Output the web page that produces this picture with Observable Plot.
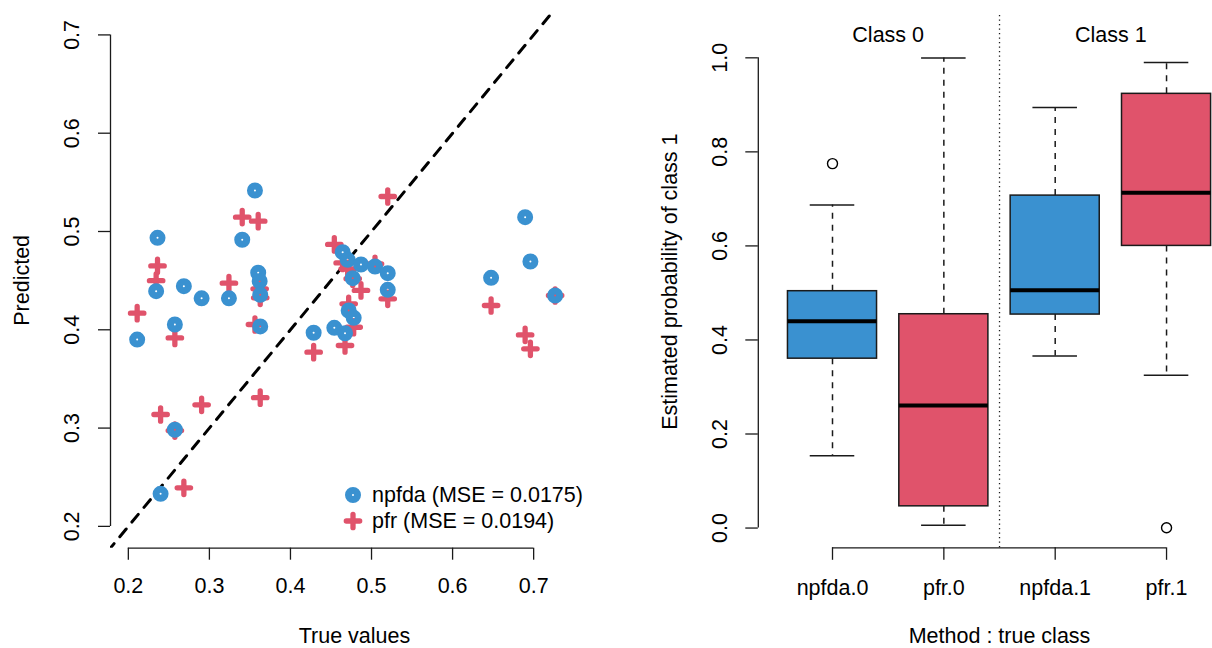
<!DOCTYPE html>
<html>
<head>
<meta charset="utf-8">
<script src="https://cdn.jsdelivr.net/npm/d3@7"></script>
<script src="https://cdn.jsdelivr.net/npm/@observablehq/plot@0.6"></script>
<style>
  html, body { margin: 0; padding: 0; background: #fff; }
  #figure { position: relative; width: 1212px; height: 648px; overflow: hidden; background: #fff;
            font-family: "Liberation Sans", Arial, Helvetica, sans-serif; color: #000; }
  #left, #right { position: absolute; top: 0; }
  #left { left: 0; }
  #right { left: 600px; }
  .legend-row { position: absolute; left: 343px; height: 26px; display: flex; align-items: center;
                font-size: 21.5px; white-space: nowrap; }
  .legend-row svg { width: 20px; height: 20px; margin-right: 9px; overflow: visible; }
</style>
</head>
<body>
<div id="figure">
  <div id="left"></div>
  <div id="right"></div>
  <div class="legend-row" style="top:482px">
    <svg viewBox="-10 -10 20 20"><circle r="4.5" fill="none" stroke="#3A91D0" stroke-width="7"/></svg>
    <span>npfda (MSE = 0.0175)</span>
  </div>
  <div class="legend-row" style="top:508px">
    <svg viewBox="-10 -10 20 20"><path d="M-6.7,0H6.7M0,-6.7V6.7" fill="none" stroke="#E0536B" stroke-width="5.3" stroke-linecap="round"/></svg>
    <span>pfr (MSE = 0.0194)</span>
  </div>
</div>
<script>
// ---- Scatter: true values against predictions ----
const trueValues = [0.2109, 0.2343, 0.2360, 0.2398, 0.2574, 0.2574, 0.2685, 0.2904, 0.3241, 0.3405,
                    0.3562, 0.3602, 0.3620, 0.3627, 0.3627, 0.4286, 0.4541, 0.4644, 0.4673, 0.4706,
                    0.4718, 0.4768, 0.4780, 0.4870, 0.5043, 0.5200, 0.5200, 0.6475, 0.6895, 0.6960,
                    0.7265];
const npfdaPred  = [0.3900, 0.4393, 0.4936, 0.2331, 0.4054, 0.2983, 0.4444, 0.4320, 0.4320, 0.4916,
                    0.5417, 0.4580, 0.4494, 0.4356, 0.4034, 0.3970, 0.4020, 0.4790, 0.3965, 0.4712,
                    0.4196, 0.4525, 0.4122, 0.4664, 0.4644, 0.4576, 0.4407, 0.4529, 0.5146, 0.4695,
                    0.4349];
const pfrPred    = [0.4169, 0.4500, 0.4650, 0.3138, 0.3917, 0.2975, 0.2392, 0.3237, 0.4474, 0.5146,
                    0.4054, 0.5105, 0.4417, 0.4325, 0.3309, 0.3772, 0.4868, 0.4680, 0.3840, 0.4620,
                    0.4264, 0.4520, 0.4026, 0.4400, 0.4671, 0.5356, 0.4315, 0.4247, 0.3948, 0.3806,
                    0.4349];
const scatterTicks = [0.2, 0.3, 0.4, 0.5, 0.6, 0.7];
const identityLine = [0.1, 0.9];

// ---- Boxplots: estimated probability of class 1 ----
const groups      = ["npfda.0", "pfr.0", "npfda.1", "pfr.1"];
const groupMethod = ["npfda", "pfr", "npfda", "pfr"];
const lowerWhisker = [0.1535, 0.0057, 0.3659, 0.3247];
const lowerHinge   = [0.3602, 0.0462, 0.4540, 0.6000];
const medians      = [0.4398, 0.2607, 0.5059, 0.7130];
const upperHinge   = [0.5037, 0.4547, 0.7070, 0.9234];
const upperWhisker = [0.6870, 0.9995, 0.8944, 0.9898];
const outlierGroup = ["npfda.0", "pfr.1"];
const outlierValue = [0.7750, 0.0007];
const classNames   = ["Class 0", "Class 1"];
const probTicks    = [0, 0.2, 0.4, 0.6, 0.8, 1.0];

const colors = {npfda: "#3A91D0", pfr: "#E0536B"};
const ink = "#1a1a1a";
const font = {fontFamily: "'Liberation Sans', Arial, Helvetica, sans-serif", fontSize: "21.5px",
              color: "#000", background: "transparent", overflow: "visible"};
const fmt1 = d3.format(".1f");

// stroked plus sign for the pfr points
const plusSymbol = {
  draw(context, size) {
    const r = Math.sqrt(size / Math.PI);
    context.moveTo(-r, 0); context.lineTo(r, 0);
    context.moveTo(0, -r); context.lineTo(0, r);
  }
};

const obs = trueValues.map((t, i) => ({t, npfda: npfdaPred[i], pfr: pfrPred[i]}));
const xDom = [0.178, 0.780];
const yDom = [0.1778, 0.7228];

const left = Plot.plot({
  width: 600, height: 648,
  marginLeft: 110, marginRight: 2, marginTop: 12, marginBottom: 100.3,
  style: font,
  x: {domain: xDom},
  y: {domain: yDom},
  marks: [
    Plot.ruleY([yDom[0]], {x1: scatterTicks[0], x2: scatterTicks[scatterTicks.length - 1], stroke: ink, strokeWidth: 1.3}),
    Plot.ruleX([xDom[0]], {y1: scatterTicks[0], y2: scatterTicks[scatterTicks.length - 1], stroke: ink, strokeWidth: 1.3}),
    Plot.axisX({ticks: scatterTicks, tickSize: 12, tickPadding: 18, tickFormat: fmt1, label: null, stroke: ink, strokeWidth: 1.3}),
    Plot.axisY({ticks: scatterTicks, tickSize: 12, fill: "none", label: null, stroke: ink, strokeWidth: 1.3}),
    Plot.text(scatterTicks, {y: d => d, frameAnchor: "left", text: fmt1, rotate: -90, dx: -38, lineAnchor: "middle", textAnchor: "middle"}),
    Plot.text(["True values"], {frameAnchor: "bottom", text: d => d, dy: 87.5, lineAnchor: "middle", textAnchor: "middle"}),
    Plot.text(["Predicted"], {frameAnchor: "left", text: d => d, rotate: -90, dx: -88, lineAnchor: "middle", textAnchor: "middle"}),
    Plot.line(identityLine, {x: d => d, y: d => d, stroke: "#000", strokeWidth: 3, strokeDasharray: "10,9", clip: true}),
    Plot.dot(obs, {x: "t", y: "pfr", symbol: plusSymbol, r: 6.7, fill: "none", stroke: colors.pfr, strokeWidth: 5.3, strokeLinecap: "round"}),
    Plot.dot(obs, {x: "t", y: "npfda", r: 4.5, fill: "none", stroke: colors.npfda, strokeWidth: 7})
  ]
});
document.getElementById("left").append(left);

// ---- right panel ----
const boxes = groups.map((g, i) => ({
  group: g, pos: i + 1, method: groupMethod[i],
  lo: lowerWhisker[i], q1: lowerHinge[i], med: medians[i], q3: upperHinge[i], hi: upperWhisker[i]
}));
const outliers = outlierGroup.map((g, i) => ({pos: groups.indexOf(g) + 1, value: outlierValue[i]}));
const classes = classNames.map((c, i) => ({label: c, pos: 2 * i + 1.5}));
const half = 0.4, cap = 0.2;
const bxDom = [0.3336, 4.4127];
const byDom = [-0.042, 1.09];
const positions = groups.map((g, i) => i + 1);

const right = Plot.plot({
  width: 612, height: 648,
  marginLeft: 157.8, marginRight: 0, marginTop: 15, marginBottom: 100.7,
  style: font,
  x: {domain: bxDom},
  y: {domain: byDom},
  marks: [
    Plot.ruleY([byDom[0]], {x1: positions[0], x2: positions[positions.length - 1], stroke: ink, strokeWidth: 1.3}),
    Plot.ruleX([bxDom[0]], {y1: probTicks[0], y2: probTicks[probTicks.length - 1], stroke: ink, strokeWidth: 1.3}),
    Plot.axisX({ticks: positions, tickSize: 12.5, tickPadding: 19, tickFormat: d => groups[d - 1], label: null, stroke: ink, strokeWidth: 1.3}),
    Plot.axisY({ticks: probTicks, tickSize: 12.5, fill: "none", label: null, stroke: ink, strokeWidth: 1.3}),
    Plot.text(probTicks, {y: d => d, frameAnchor: "left", text: fmt1, rotate: -90, dx: -38, lineAnchor: "middle", textAnchor: "middle"}),
    Plot.text(["Method : true class"], {x: () => 2.5, frameAnchor: "bottom", text: d => d, dy: 88, lineAnchor: "middle", textAnchor: "middle"}),
    Plot.text(["Estimated probability of class 1"], {frameAnchor: "left", text: d => d, rotate: -90, dx: -88, lineAnchor: "middle", textAnchor: "middle"}),
    Plot.ruleX([2.5], {stroke: ink, strokeWidth: 1.3, strokeDasharray: "1.3,3.2"}),
    Plot.text(classes, {x: "pos", y: () => 1.048, text: "label", lineAnchor: "middle"}),
    // whiskers
    Plot.ruleX(boxes, {x: "pos", y1: "q3", y2: "hi", stroke: ink, strokeWidth: 1.5, strokeDasharray: "6,6"}),
    Plot.ruleX(boxes, {x: "pos", y1: "q1", y2: "lo", stroke: ink, strokeWidth: 1.5, strokeDasharray: "6,6"}),
    Plot.ruleY(boxes, {y: "hi", x1: d => d.pos - cap, x2: d => d.pos + cap, stroke: ink, strokeWidth: 1.5}),
    Plot.ruleY(boxes, {y: "lo", x1: d => d.pos - cap, x2: d => d.pos + cap, stroke: ink, strokeWidth: 1.5}),
    // boxes and medians
    Plot.rect(boxes, {x1: d => d.pos - half, x2: d => d.pos + half, y1: "q1", y2: "q3",
                      fill: d => colors[d.method], stroke: ink, strokeWidth: 1.5}),
    Plot.ruleY(boxes, {y: "med", x1: d => d.pos - half, x2: d => d.pos + half, stroke: "#000", strokeWidth: 4}),
    Plot.dot(outliers, {x: "pos", y: "value", r: 5, fill: "none", stroke: "#000", strokeWidth: 1.4})
  ]
});
document.getElementById("right").append(right);
</script>
</body>
</html>
